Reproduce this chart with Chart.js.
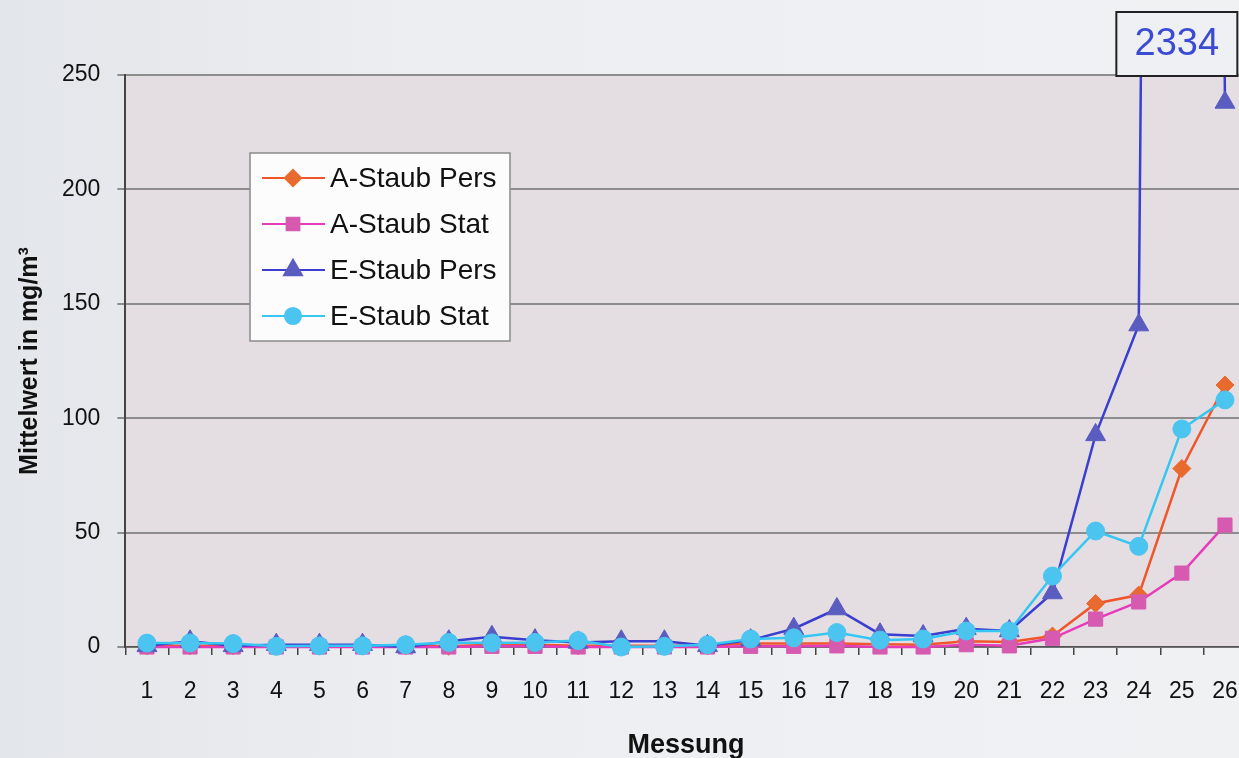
<!DOCTYPE html>
<html><head><meta charset="utf-8">
<script src="https://cdn.jsdelivr.net/npm/chart.js@4.4.0/dist/chart.umd.min.js"></script>
<style>
html,body{margin:0;padding:0;overflow:hidden;width:1239px;height:758px;}
body{background:linear-gradient(90deg,#e3e6ea 0%,#eceef1 35%,#f0f1f3 100%);}
#wrap{position:absolute;left:0;top:0;width:1261px;height:762px;}
</style></head><body>
<div id="wrap"><canvas id="c" width="1261" height="762"></canvas></div>
<script>
const categories = ['1','2','3','4','5','6','7','8','9','10','11','12','13','14','15','16','17','18','19','20','21','22','23','24','25','26'];
const seriesLabels = ['A-Staub Pers','A-Staub Stat','E-Staub Pers','E-Staub Stat'];
const aStaubPers = [0.5,0.5,0.5,0.5,0.5,0.5,0.5,0.3,1,1,0.5,0.5,0.5,0.5,1.5,1.5,1.5,1.2,1,2.5,2.2,4.8,19,22.7,78,114.5];
const aStaubStat = [0,0,0,0,0,0,0,0,0.3,0.3,0,0,0,0,0.3,0.3,0.5,0,0,1,0.5,3.8,12.2,19.7,32.3,53.3];
const eStaubPers = [0.5,2.5,0.5,1,1,1,0,2.5,4.5,3,2,2.5,2.5,0.5,3,8,16.6,5.6,4.8,8,7,23.6,92.7,140.7,2334,238];
const eStaubStat = [1.7,1.8,1.5,0.3,0.5,0.5,1,2,1.8,2,2.8,0,0.3,1,3.5,4,6.3,3,3.5,7,7,31,50.7,44,95.3,108];
const yTicks = [0,50,100,150,200,250];

const FONT = '"Liberation Sans", Arial, sans-serif';

const bgPlugin = {
  id: 'plotBg',
  beforeDraw(chart) {
    const a = chart.chartArea, ctx = chart.ctx;
    ctx.save();
    ctx.fillStyle = '#e4dee3';
    ctx.fillRect(a.left, a.top, a.right - a.left, a.bottom - a.top);
    ctx.restore();
  }
};

const legendPlugin = {
  id: 'boxLegend',
  afterDatasetsDraw(chart) {
    const ctx = chart.ctx;
    const x0 = 250, y0 = 153, w = 260, h = 188;
    ctx.save();
    ctx.fillStyle = '#fcfcfc';
    ctx.fillRect(x0, y0, w, h);
    ctx.strokeStyle = '#8a8a8a';
    ctx.lineWidth = 1.5;
    ctx.strokeRect(x0, y0, w, h);
    chart.data.datasets.forEach((ds, i) => {
      const y = y0 + 25 + i * 46;
      ctx.strokeStyle = ds.borderColor;
      ctx.lineWidth = 2;
      ctx.beginPath(); ctx.moveTo(262, y); ctx.lineTo(325, y); ctx.stroke();
      ctx.fillStyle = ds.pointBackgroundColor;
      ctx.strokeStyle = ds.pointBorderColor;
      Chart.helpers.drawPoint(ctx, {pointStyle: ds.pointStyle, radius: ds.pointRadius * 0.9, borderWidth: 1, rotation: 0}, 293, y);
      ctx.fillStyle = '#111';
      ctx.font = '28px ' + FONT;
      ctx.textBaseline = 'middle';
      ctx.textAlign = 'left';
      ctx.fillText(ds.label, 330, y + 1);
    });
    ctx.restore();
  }
};

const offScalePlugin = {
  id: 'offScale',
  afterDraw(chart) {
    const ctx = chart.ctx, a = chart.chartArea;
    const xs = chart.scales.x, ys = chart.scales.y;
    chart.data.datasets.forEach(ds => {
      ds.data.forEach((v, i) => {
        if (v > ys.max) {
          const cx = xs.getPixelForValue(i) - 5;
          const bw = 121, bh = 64;
          const bx = cx - bw / 2, by = a.top + 1 - bh;
          ctx.save();
          ctx.fillStyle = '#eef0f3';
          ctx.fillRect(bx, by, bw, bh);
          ctx.strokeStyle = '#222';
          ctx.lineWidth = 2;
          ctx.strokeRect(bx, by, bw, bh);
          ctx.fillStyle = '#3b4bd4';
          ctx.font = '38px ' + FONT;
          ctx.textAlign = 'center';
          ctx.textBaseline = 'middle';
          ctx.fillText(String(v), cx, by + bh / 2 + 1);
          ctx.restore();
        }
      });
    });
  }
};

function ds(label, data, line, fill, style, r, order) {
  return {label, data, borderColor: line, backgroundColor: fill, pointBackgroundColor: fill, pointBorderColor: fill,
    pointStyle: style, pointRadius: r, pointBorderWidth: 1, borderWidth: 2.5, tension: 0, order,
    clip: {left: 20, top: 0, right: 20, bottom: 20}};
}

new Chart(document.getElementById('c'), {
  type: 'line',
  data: {
    labels: categories,
    datasets: [
      ds(seriesLabels[0], aStaubPers, '#f0562c', '#e86a2e', 'rectRot', 9, 4),
      ds(seriesLabels[1], aStaubStat, '#e63cba', '#d65ab0', 'rect', 10, 3),
      ds(seriesLabels[2], eStaubPers, '#3a3fd0', '#5a5cc0', 'triangle', 11.5, 2),
      ds(seriesLabels[3], eStaubStat, '#36c6f2', '#4cc4f0', 'circle', 9, 1)
    ]
  },
  options: {
    responsive: false,
    animation: false,
    devicePixelRatio: 1,
    layout: {padding: {left: 15, top: 75, right: 3, bottom: 0}},
    plugins: {legend: {display: false}, tooltip: {enabled: false}},
    scales: {
      x: {
        offset: true,
        grid: {offset: true, drawOnChartArea: false, color: '#444', tickLength: 8, lineWidth: 1.5},
        border: {color: '#555', width: 1.5},
        ticks: {color: '#111', font: {size: 23, family: FONT}, padding: 23, maxRotation: 0, autoSkip: false},
        title: {display: true, text: 'Messung', color: '#111', font: {size: 27, weight: 'bold', family: FONT}, padding: {top: 1, bottom: 0}}
      },
      y: {
        min: 0, max: 250,
        afterBuildTicks(scale) { scale.ticks = yTicks.map(v => ({value: v})); },
        ticks: {color: '#111', font: {size: 23, family: FONT}, padding: 17},
        grid: {color: '#8d8d8d', lineWidth: 2, tickLength: 8},
        border: {color: '#444', width: 2},
        title: {display: true, text: 'Mittelwert in mg/m³', color: '#111', font: {size: 25, weight: 'bold', family: FONT}, padding: {top: 0, bottom: 0}}
      }
    }
  },
  plugins: [bgPlugin, legendPlugin, offScalePlugin]
});
</script>
</body></html>
